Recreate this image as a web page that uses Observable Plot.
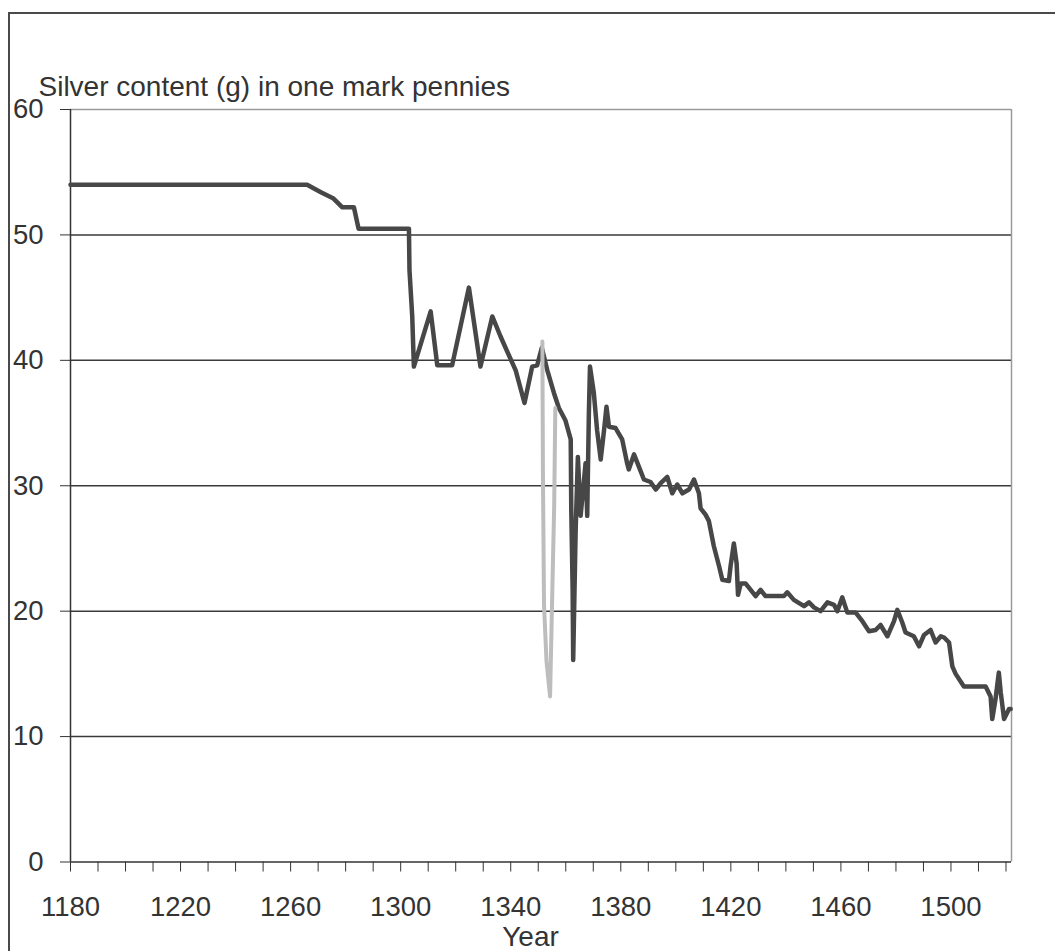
<!DOCTYPE html>
<html><head><meta charset="utf-8">
<script src="https://cdn.jsdelivr.net/npm/d3@7"></script>
<script src="https://cdn.jsdelivr.net/npm/@observablehq/plot@0.6"></script>
<style>
body{margin:0;background:#fff;overflow:hidden;}
#wrap{position:relative;width:1055px;height:951px;overflow:hidden;}
#frame{position:absolute;left:8px;top:12px;width:1200px;height:1200px;border:2px solid #4a4a4a;box-sizing:border-box;}
#chart{position:absolute;left:0;top:0;}
</style></head><body>
<div id="wrap"><div id="frame"></div><div id="chart"></div></div>
<script>
const titleText = "Silver content (g) in one mark pennies";
const xLabelText = "Year";

const darkYears = [1180,1266,1271,1275.6,1278.8,1283,1284.7,1303,1303.2,1304.2,1304.8,1310.9,1313.3,1318.7,1324.8,1329,1333.3,1336.3,1341.8,1345,1347.8,1349.6,1351.3,1353.3,1355.7,1357.5,1359.9,1361.8,1362.0,1362.5,1362.7,1363.6,1364.4,1365.4,1367.2,1367.8,1368.4,1368.8,1370.2,1371.4,1372.7,1373.9,1374.8,1375.7,1378.1,1380.5,1382.3,1382.9,1384.8,1386.6,1388.4,1390.8,1392.7,1394.5,1396.9,1398.7,1400.5,1402.4,1404.8,1406.6,1408.4,1409.0,1410.8,1412.0,1413.8,1415.7,1416.9,1419.3,1419.9,1421.1,1422.1,1422.6,1423.6,1425.4,1427.2,1429.0,1430.8,1432.6,1439.3,1440.5,1442.9,1446.6,1448.4,1450.2,1452.6,1455.1,1457.5,1458.7,1460.5,1462.3,1465.3,1467.8,1470.2,1472.6,1474.4,1476.9,1479.3,1480.5,1482.3,1483.5,1486.5,1488.4,1490.2,1492.6,1494.4,1496.3,1497.5,1499.3,1500.5,1501.7,1504.7,1512.6,1514.4,1515.0,1516.2,1517.4,1518.1,1519.3,1521.1,1521.7];
const darkValues = [54,54,53.4,52.9,52.2,52.2,50.5,50.5,47.2,43.5,39.5,43.9,39.6,39.6,45.8,39.5,43.5,41.9,39.2,36.6,39.5,39.6,41.0,39.2,37.4,36.2,35.2,33.7,28.1,21.7,16.1,26.5,32.3,27.6,31.8,27.6,35.8,39.5,37.4,34.4,32.1,34.4,36.3,34.7,34.6,33.7,31.8,31.3,32.5,31.5,30.5,30.3,29.7,30.2,30.7,29.4,30.1,29.4,29.7,30.5,29.4,28.2,27.7,27.2,25.2,23.6,22.5,22.4,23.6,25.4,23.8,21.3,22.2,22.2,21.7,21.2,21.7,21.2,21.2,21.5,20.9,20.4,20.7,20.3,20.0,20.7,20.5,20.0,21.1,19.9,19.9,19.2,18.4,18.5,18.9,18.0,19.2,20.1,19.1,18.3,18.0,17.2,18.1,18.5,17.5,18.0,17.9,17.5,15.6,15.0,14.0,14.0,13.2,11.4,13.0,15.1,13.5,11.4,12.2,12.2];

const grayYears = [1351.5,1351.7,1352.1,1353.0,1354.3,1355.0,1355.8,1356.2];
const grayValues = [41.5,31.0,20.5,16.0,13.2,20.5,28.5,36.2];

const yTickValues = [0,10,20,30,40,50,60];
const gridValues = [10,20,30,40,50];
const xTickValues = [1180,1190,1200,1210,1220,1230,1240,1250,1260,1270,1280,1290,1300,1310,1320,1330,1340,1350,1360,1370,1380,1390,1400,1410,1420,1430,1440,1450,1460,1470,1480,1490,1500,1510,1520];
const xTickLabels = [1180,1220,1260,1300,1340,1380,1420,1460,1500];

const dark = darkYears.map((year, i) => ({year, value: darkValues[i]}));
const gray = grayYears.map((year, i) => ({year, value: grayValues[i]}));

const xMin = 1180, xMax = 1522;
const font = "'Liberation Sans', Arial, sans-serif";

const chart = Plot.plot({
  width: 1055,
  height: 951,
  marginLeft: 70,
  marginRight: 44,
  marginTop: 109,
  marginBottom: 89.5,
  style: {fontFamily: font, background: "transparent", color: "#333"},
  x: {domain: [xMin, xMax]},
  y: {domain: [0, 60]},
  marks: [
    Plot.ruleY(gridValues, {stroke: "#3a3a3a", strokeWidth: 1.5}),
    Plot.ruleY([60], {stroke: "#9a9a9a", strokeWidth: 1.5}),
    Plot.ruleX([xMax], {stroke: "#9a9a9a", strokeWidth: 1.5}),
    Plot.axisY({ticks: yTickValues, tickSize: 10, tickPadding: 17, fontSize: 27.5, label: null, color: "#333", tickFormat: d => String(d)}),
    Plot.axisX({ticks: xTickValues, tickSize: 10, tickPadding: 24, fontSize: 27.5, label: null, color: "#333",
      tickFormat: d => xTickLabels.includes(d) ? String(d) : ""}),
    Plot.ruleX([xMin], {stroke: "#333", strokeWidth: 1.5}),
    Plot.ruleY([0], {stroke: "#333", strokeWidth: 1.5}),
    Plot.line(dark, {x: "year", y: "value", stroke: "#474747", strokeWidth: 4.5, strokeLinejoin: "round"}),
    Plot.line(gray, {x: "year", y: "value", stroke: "#bdbdbd", strokeWidth: 4, strokeLinejoin: "round"}),
    Plot.text([titleText], {frameAnchor: "top-left", textAnchor: "start", lineAnchor: "bottom", dx: -32, dy: -14, fontSize: 28, fill: "#333"}),
    Plot.text([xLabelText], {frameAnchor: "bottom", lineAnchor: "bottom", dx: -10.5, dy: 83.5, fontSize: 28, fill: "#333"})
  ]
});
document.getElementById("chart").append(chart);
</script>
</body></html>
